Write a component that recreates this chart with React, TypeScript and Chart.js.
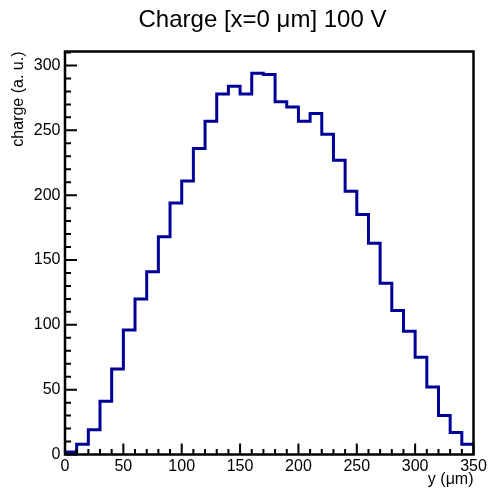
import React, { useEffect, useRef } from "react";
import { Chart, registerables } from "chart.js";

Chart.register(...registerables);

const TITLE = "Charge [x=0 \u03bcm] 100 V";
const X_TITLE = "y (\u03bcm)";
const Y_TITLE = "charge (a. u.)";

// bin edges (y in um) and bin contents
const binEdges = [0, 10, 20, 30, 40, 50, 60, 70, 80, 90, 100, 110, 120, 130, 140, 150, 160, 170, 180, 190, 200, 210, 220, 230, 240, 250, 260, 270, 280, 290, 300, 310, 320, 330, 340, 350];
const binValues = [2, 8, 19, 41, 66, 96, 120, 141, 168, 194, 211, 236, 257, 278, 284, 278, 294, 293, 272, 268, 257, 263, 247, 227, 203, 185, 163, 132, 111, 95, 75, 52, 30, 17, 8];

// tick labels
const xTickValues = [0, 50, 100, 150, 200, 250, 300, 350];
const yTickValues = [0, 50, 100, 150, 200, 250, 300];

const xMin = 0;
const xMax = 350;
const yMin = 0;
const yMax = 310.8;
const majorStep = 50;
const minorStep = 10;

const FONT = "'Liberation Sans', Arial, Helvetica, sans-serif";

export default function App() {
  const ref = useRef<HTMLCanvasElement | null>(null);

  useEffect(() => {
    document.body.style.margin = "0";
    const canvas = ref.current;
    if (!canvas) return;

    const points = binEdges.map((x, i) => ({
      x,
      y: binValues[Math.min(i, binValues.length - 1)],
    }));

    const framePlugin = {
      id: "rootFrame",
      afterDraw(chart: any) {
        const ctx = chart.ctx;
        const { left, right, top, bottom } = chart.chartArea;
        const xs = chart.scales.x;
        const ys = chart.scales.y;
        ctx.save();
        ctx.strokeStyle = "#000";
        ctx.lineWidth = 2;
        ctx.beginPath();
        for (let v = xMin; v <= xMax; v += minorStep) {
          const px = xs.getPixelForValue(v);
          const len = v % majorStep === 0 ? 11 : 5.5;
          ctx.moveTo(px, bottom);
          ctx.lineTo(px, bottom - len);
        }
        for (let v = yMin; v <= yMax; v += minorStep) {
          const py = ys.getPixelForValue(v);
          const len = v % majorStep === 0 ? 12 : 6;
          ctx.moveTo(left, py);
          ctx.lineTo(left + len, py);
        }
        ctx.stroke();
        ctx.lineWidth = 2.5;
        ctx.strokeRect(left, top, right - left, bottom - top);
        // main title
        ctx.fillStyle = "#000";
        ctx.font = `24px ${FONT}`;
        ctx.textAlign = "center";
        ctx.textBaseline = "alphabetic";
        ctx.fillText(TITLE, 262.5, 27);
        ctx.restore();
      },
    };

    const chart = new Chart(canvas, {
      type: "line",
      data: {
        datasets: [
          {
            data: points,
            borderColor: "#000096",
            borderWidth: 3,
            pointRadius: 0,
            stepped: "before",
            fill: false,
            tension: 0,
          },
        ],
      },
      options: {
        animation: false,
        responsive: false,
        devicePixelRatio: 1,
        layout: { padding: { left: 0, right: 17.5, top: 51.5, bottom: 0 } },
        plugins: {
          legend: { display: false },
          tooltip: { enabled: false },
          title: { display: false },
        },
        scales: {
          x: {
            type: "linear",
            min: xMin,
            max: xMax,
            grid: { display: false, drawTicks: false },
            border: { display: false },
            ticks: {
              color: "#000",
              padding: 2.5,
              maxRotation: 0,
              autoSkip: false,
              font: { family: FONT, size: 16 },
            },
            afterBuildTicks(scale: any) {
              scale.ticks = xTickValues.map((v) => ({ value: v }));
            },
            title: {
              display: true,
              text: X_TITLE,
              align: "end",
              color: "#000",
              font: { family: FONT, size: 16 },
              padding: { top: 0, bottom: 1.5 },
            },
            afterFit(scale: any) {
              scale.height = 36.5;
            },
          },
          y: {
            type: "linear",
            min: yMin,
            max: yMax,
            grid: { display: false, drawTicks: false },
            border: { display: false },
            ticks: {
              color: "#000",
              padding: 4.5,
              autoSkip: false,
              font: { family: FONT, size: 16 },
            },
            afterBuildTicks(scale: any) {
              scale.ticks = yTickValues.map((v) => ({ value: v }));
            },
            title: {
              display: true,
              text: Y_TITLE,
              align: "end",
              color: "#000",
              font: { family: FONT, size: 16 },
              padding: { top: 9, bottom: 0 },
            },
            afterFit(scale: any) {
              scale.width = 65;
            },
          },
        },
      },
      plugins: [framePlugin],
    });

    return () => chart.destroy();
  }, []);

  return <canvas ref={ref} width={491} height={491} style={{ display: "block", width: 491, height: 491 }} />;
}
